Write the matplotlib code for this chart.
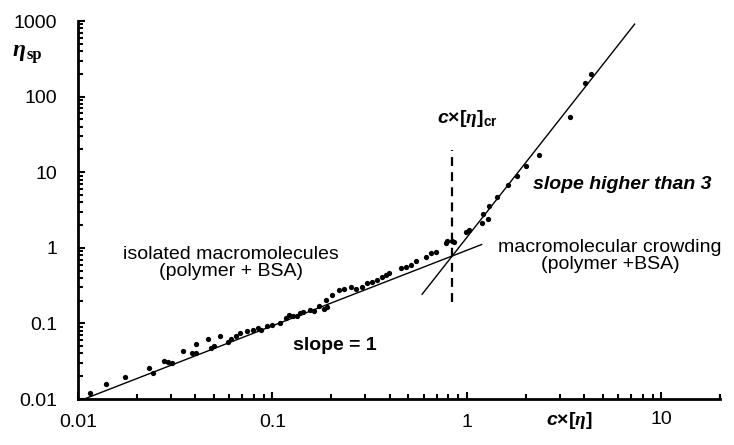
import matplotlib
matplotlib.use('Agg')
import matplotlib.pyplot as plt
import numpy as np
from matplotlib.ticker import FixedLocator, FixedFormatter, NullFormatter
from matplotlib.transforms import blended_transform_factory

# concentración reducida c×[η] y viscosidad específica (polímero + BSA)
c_eta = [0.0115, 0.0139, 0.0174, 0.0233, 0.0243, 0.0276, 0.0291, 0.0303, 0.0345, 0.0384,
         0.0402, 0.0405, 0.0464, 0.0481, 0.0498, 0.0535, 0.0588, 0.0609, 0.0646, 0.0677,
         0.0736, 0.0790, 0.0838, 0.0878, 0.0932, 0.100, 0.109, 0.118, 0.122, 0.127,
         0.133, 0.138, 0.143, 0.155, 0.164, 0.174, 0.185, 0.189, 0.191, 0.203,
         0.221, 0.234, 0.254, 0.270, 0.290, 0.307, 0.326, 0.346, 0.367, 0.385,
         0.398, 0.459, 0.487, 0.516, 0.548, 0.616, 0.654, 0.694, 0.780, 0.789,
         0.838, 0.857, 0.988, 1.024, 1.194, 1.208, 1.281, 1.297, 1.425, 1.623,
         1.805, 2.007, 2.339, 3.395, 4.053, 4.34]
eta_sp = [0.0121, 0.0158, 0.0195, 0.0257, 0.0221, 0.0318, 0.0308, 0.0299, 0.0431, 0.0406,
          0.0400, 0.0534, 0.0622, 0.0473, 0.0502, 0.0681, 0.0568, 0.0622, 0.0681, 0.0746,
          0.0793, 0.0818, 0.0869, 0.0818, 0.0924, 0.0953, 0.102, 0.118, 0.129, 0.125,
          0.125, 0.137, 0.143, 0.150, 0.146, 0.170, 0.155, 0.204, 0.165, 0.238,
          0.277, 0.285, 0.303, 0.285, 0.303, 0.345, 0.356, 0.375, 0.415, 0.437,
          0.469, 0.536, 0.562, 0.592, 0.675, 0.749, 0.845, 0.887, 1.147, 1.241,
          1.241, 1.211, 1.633, 1.72, 2.13, 2.80, 2.40, 3.57, 4.70, 6.77,
          8.91, 12.08, 16.89, 54.4, 152.8, 199.0]

# punto de cruce y pendientes de los dos regímenes
x_cr, y_cr = 0.84, 0.78
pend_diluido = 1.0
pend_concentrado = 3.27
rango_diluido = [0.011, 1.19]
rango_concentrado = [0.588, 7.28]
rango_cr = [0.19, 19.7]

x_ticks = [0.01, 0.1, 1, 10]
x_tick_labels = ['0.01', '0.1', '1', '10']
y_ticks = [0.01, 0.1, 1, 10, 100, 1000]
y_tick_labels = ['0.01', '0.1', '1', '10', '100', '1000']

plt.rcParams['font.family'] = 'Liberation Sans'
plt.rcParams['font.size'] = 14
plt.rcParams['mathtext.fontset'] = 'custom'
plt.rcParams['mathtext.rm'] = 'Liberation Sans:bold'
plt.rcParams['mathtext.bf'] = 'Liberation Sans:bold'
plt.rcParams['mathtext.it'] = 'Liberation Sans:italic:bold'
plt.rcParams['mathtext.sf'] = 'Liberation Serif:italic:bold'

W, H = 734, 445
fig = plt.figure(figsize=(W / 100, H / 100), dpi=100)
ax = fig.add_axes([78 / W, 1 - 399 / H, 642 / W, 378 / H])

ax.set_xscale('log')
ax.set_yscale('log')
ax.set_xlim(0.01, 20)
ax.set_ylim(0.01, 1000)

# rectas de ajuste
xd = np.array(rango_diluido)
ax.plot(xd, y_cr * (xd / x_cr) ** pend_diluido, color='black', lw=1.0)
xc = np.array(rango_concentrado)
ax.plot(xc, y_cr * (xc / x_cr) ** pend_concentrado, color='black', lw=1.0)
ax.plot([x_cr, x_cr], rango_cr, color='black', lw=1.6, dashes=(4.0, 2.8))

ax.plot(c_eta, eta_sp, 'o', color='black', ms=3.8, mew=0)

# ejes
for s in ['top', 'right']:
    ax.spines[s].set_visible(False)
for s in ['left', 'bottom']:
    ax.spines[s].set_linewidth(2)

minor_x = [m * 10.0 ** k for k in range(-2, 2) for m in range(2, 10)] + [20]
minor_y = [m * 10.0 ** k for k in range(-2, 3) for m in range(2, 10)]
ax.xaxis.set_major_locator(FixedLocator(x_ticks))
ax.xaxis.set_major_formatter(FixedFormatter(['0.01', '0.1', '1', '']))
ax.xaxis.set_minor_locator(FixedLocator(minor_x))
ax.xaxis.set_minor_formatter(NullFormatter())
ax.yaxis.set_major_locator(FixedLocator(y_ticks))
ax.yaxis.set_major_formatter(FixedFormatter(y_tick_labels))
ax.yaxis.set_minor_locator(FixedLocator(minor_y))
ax.yaxis.set_minor_formatter(NullFormatter())
ax.tick_params(which='both', direction='in', width=1.5, colors='black')
ax.tick_params(which='major', length=5)
ax.tick_params(which='minor', length=3.5)
ax.tick_params(axis='y', which='major', pad=15, labelsize=14)
ax.tick_params(axis='x', which='major', pad=11, labelsize=14)

# la etiqueta "10" va algo más arriba que las demás
tr = blended_transform_factory(ax.transData, ax.transAxes)
ax.text(x_ticks[-1], -0.033, x_tick_labels[-1], transform=tr, ha='center', va='top', fontsize=14)

ax.text(0.765, -0.056, r'$c$×[$\mathsf{\eta}$]', transform=ax.transAxes,
        ha='center', va='center', fontsize=14, weight='bold')
fig.text(13 / W, 1 - 56 / H, 'η', family='Liberation Serif', weight='bold',
         style='italic', fontsize=17, va='baseline')
fig.text(26 / W, 1 - 59 / H, 'sp', family='Liberation Serif', weight='bold',
         fontsize=12, va='baseline')

# anotaciones
ax.text(0.606, 0.741, r'$c$×[$\mathsf{\eta}$]$_{\mathrm{cr}}$', transform=ax.transAxes,
        ha='center', va='center', fontsize=14, weight='bold')
ax.text(0.709, 0.5675, 'slope higher than 3', transform=ax.transAxes,
        ha='left', va='center', fontsize=14, weight='bold', style='italic')
ax.text(0.400, 0.1415, 'slope = 1', transform=ax.transAxes,
        ha='center', va='center', fontsize=14, weight='bold')
ax.text(0.2383, 0.36, 'isolated macromolecules\n(polymer + BSA)', transform=ax.transAxes,
        ha='center', va='center', fontsize=14, linespacing=0.95)
ax.text(0.829, 0.378, 'macromolecular crowding\n(polymer +BSA)', transform=ax.transAxes,
        ha='center', va='center', fontsize=14, linespacing=0.95)

plt.savefig('out.png', dpi=100)
